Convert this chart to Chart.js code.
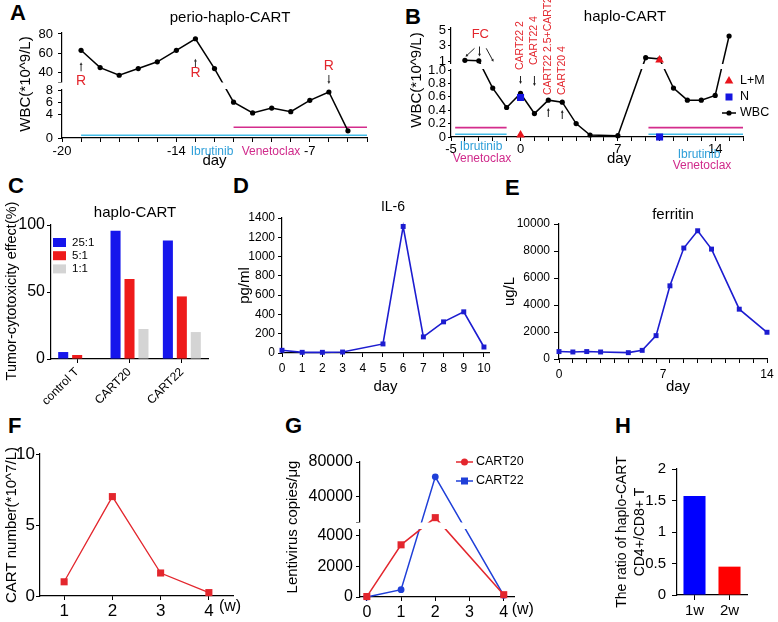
<!DOCTYPE html>
<html><head><meta charset="utf-8">
<title>haplo-CART</title>
<script src="https://cdn.jsdelivr.net/npm/chart.js@4/dist/chart.umd.js"></script>
<style>
html,body{margin:0;padding:0;background:#fff;}
body{position:relative;width:778px;height:622px;overflow:hidden;}
.pl{position:absolute;font:bold 22px "Liberation Sans",Arial,sans-serif;line-height:22px;color:#000;}
canvas{position:absolute;}
</style></head><body>
<div class="pl" style="left:10px;top:2px">A</div>
<div class="pl" style="left:405px;top:6px">B</div>
<div class="pl" style="left:8px;top:175px">C</div>
<div class="pl" style="left:233px;top:175px">D</div>
<div class="pl" style="left:505px;top:177px">E</div>
<div class="pl" style="left:8px;top:415px">F</div>
<div class="pl" style="left:285px;top:415px">G</div>
<div class="pl" style="left:615px;top:415px">H</div>
<script>
// ================= DATA =================
// A: perio-haplo-CART
const aDays = [-19,-18,-17,-16,-15,-14,-13,-12,-11,-10,-9,-8,-7,-6,-5];
const aWBC  = [63,45,37,44,51,63,75,44,6,4.2,5,4.4,6.3,7.7,1.2];
const aIbrutinib  = [-19,-4];
const aVenetoclax = [-11,-4];
const aXTickLabels = [-20,-14,-7];
const aYTicks = [0,4,6,8,30,40,60,80];
const aRelapseDays = [-19,-13,-6];
// B: haplo-CART
const bDays = [-4,-3,-2,-1,0,1,2,3,4,5,7,9,10,11,12,13,14,15];
const bWBC  = [1.09,1.02,0.73,0.44,0.65,0.35,0.55,0.52,0.2,0.03,0.02,1.43,1.26,0.73,0.55,0.55,0.62,4.22];
const bLMDays = [0,10];
const bLM     = [0.03,1.13];
const bNDays  = [0,10];
const bN      = [0.59,0];
const bIbrutinib  = [[-4.7,-1],[9.2,16]];
const bVenetoclax = [[-4.7,-1],[9.2,16]];
const bXTickLabels = [-5,0,7,14];
const bYTicks = [0,0.2,0.4,0.6,0.8,1.0,1.001,3,5];
const bInfusionDays  = [0,1,2,3];
const bInfusionTexts = ['CART22 2','CART22 4','CART22 2.5+CART20 2','CART20 4'];
const bFCDays = [-4,-3,-2];
// C: cytotoxicity
const cCategories = ['control T','CART20','CART22'];
const cRatios = ['25:1','5:1','1:1'];
const c25to1 = [5.2,95.7,88.5];
const c5to1  = [3.0,59.7,46.7];
const c1to1  = [0,22.4,20.1];
const cYTicks = [0,50,100];
// D: IL-6
const dDays = [0,1,2,3,5,6,7,8,9,10];
const dIL6  = [28,7,7,10,94,1312,167,323,427,62];
const dXTicks = [0,1,2,3,4,5,6,7,8,9,10];
const dYTicks = [0,200,400,600,800,1000,1200,1400];
// E: ferritin
const eIdx = [0,1,2,3,5,6,7,8,9,10,11,13,15];
const eFerritin = [550,520,550,520,470,640,1730,5420,8220,9500,8140,3690,1980];
const eXTickPos  = [0,7.5,15];
const eXTickText = ['0','7','14'];
const eYTicks = [0,2000,4000,6000,8000,10000];
// F: CART number
const fWeeks = ['1','2','3','4'];
const fCART  = [1.0,7.0,1.62,0.24];
const fYTicks = [0,5,10];
// G: lentivirus copies
const gWeeks  = [0,1,2,4];
const gCART20 = [30,3400,16000,150];
const gCART22 = [0,480,63000,110];
const gXTicks = [0,1,2,3,4];
const gYTicks = [0,2000,4000,11000,40000,80000];
// H: CD4/CD8 ratio
const hWeeks = ['1w','2w'];
const hRatio = [1.57,0.45];
const hYTicks = [0,0.5,1,1.5,2];

// ================= STYLE / HELPERS =================
const FONT = '"Liberation Sans", Arial, Helvetica, sans-serif';
Chart.defaults.font.family = FONT;
Chart.defaults.color = '#000';
const BLACK = '#000', CYAN = '#45bde8', MAG = '#d42c8c', CYAN_T = '#2e9fd9', MAG_T = '#d02a8b', RED_T = '#e3262d';
const BLUE = '#1616ec', RED = '#ee1b1b', GREY = '#d4d4d4', LBLUE = '#1c1cd0', LRED = '#e3262d', GBLUE = '#1f3fd8';
const CLIP = {left: 6, right: 6, top: 6, bottom: 6};

// Broken (two-segment) linear axis: lower segment [min, lo], upper segment [hi, max]
class BrokenScale extends Chart.LinearScale {
  getPixelForValue(v) {
    if (v === null || v === undefined || isNaN(v)) return NaN;
    const b = this.options.brk;
    const top = this.top, bot = this.bottom;
    const loY = bot - b.lowPx, hiY = top + b.upPx;
    if (v <= b.lo) return bot - (v - this.min) / (b.lo - this.min) * b.lowPx;
    if (v >= b.hi) return hiY - (v - b.hi) / (this.max - b.hi) * b.upPx;
    return loY - (v - b.lo) / (b.hi - b.lo) * (loY - hiY);
  }
  getValueForPixel(p) {
    const b = this.options.brk;
    const top = this.top, bot = this.bottom;
    const loY = bot - b.lowPx, hiY = top + b.upPx;
    if (p >= loY) return this.min + (bot - p) / b.lowPx * (b.lo - this.min);
    if (p <= hiY) return b.hi + (hiY - p) / b.upPx * (this.max - b.hi);
    return b.lo + (loY - p) / (loY - hiY) * (b.hi - b.lo);
  }
}
BrokenScale.id = 'broken';
Chart.register(BrokenScale);

function pts(xs, ys) { return xs.map((x, i) => ({x: x, y: ys[i]})); }
function seq(a, b) { const r = []; for (let v = a; v <= b; v++) r.push(v); return r; }

function makeH(chart, ox, oy) {
  const ctx = chart.ctx;
  const H = {
    chart,
    px(v, id) { return chart.scales[id || 'x'].getPixelForValue(v) + ox; },
    py(v, id) { return chart.scales[id || 'y'].getPixelForValue(v) + oy; },
    text(s, x, y, o) {
      o = o || {};
      ctx.save();
      ctx.translate(x - ox, y - oy);
      if (o.rot) ctx.rotate(o.rot);
      ctx.font = (o.bold ? 'bold ' : '') + (o.size || 12) + 'px ' + FONT;
      ctx.fillStyle = o.color || '#000';
      ctx.textAlign = o.align || 'center';
      ctx.textBaseline = o.base || 'middle';
      ctx.fillText(s, 0, 0);
      ctx.restore();
    },
    line(x1, y1, x2, y2, color, w) {
      ctx.save(); ctx.beginPath(); ctx.moveTo(x1 - ox, y1 - oy); ctx.lineTo(x2 - ox, y2 - oy);
      ctx.strokeStyle = color || '#000'; ctx.lineWidth = w || 1; ctx.stroke(); ctx.restore();
    },
    arrow(x1, y1, x2, y2, color, w, hs) {
      hs = hs || 3.5;
      const a = Math.atan2(y2 - y1, x2 - x1);
      H.line(x1, y1, x2 - Math.cos(a) * hs * 0.6, y2 - Math.sin(a) * hs * 0.6, color, w);
      ctx.save(); ctx.beginPath();
      ctx.moveTo(x2 - ox, y2 - oy);
      ctx.lineTo(x2 - ox - hs * Math.cos(a - 0.5), y2 - oy - hs * Math.sin(a - 0.5));
      ctx.lineTo(x2 - ox - hs * Math.cos(a + 0.5), y2 - oy - hs * Math.sin(a + 0.5));
      ctx.closePath(); ctx.fillStyle = color || '#000'; ctx.fill(); ctx.restore();
    },
    box(x, y, w, h, color) { ctx.save(); ctx.fillStyle = color; ctx.fillRect(x - ox, y - oy, w, h); ctx.restore(); },
    dot(x, y, r, color) { ctx.save(); ctx.beginPath(); ctx.arc(x - ox, y - oy, r, 0, Math.PI * 2); ctx.fillStyle = color; ctx.fill(); ctx.restore(); },
    tri(x, y, r, color) {
      ctx.save(); ctx.beginPath();
      ctx.moveTo(x - ox, y - oy - r);
      ctx.lineTo(x - ox + r * 0.866, y - oy + r * 0.5);
      ctx.lineTo(x - ox - r * 0.866, y - oy + r * 0.5);
      ctx.closePath(); ctx.fillStyle = color; ctx.fill(); ctx.restore();
    }
  };
  return H;
}

// white band that cuts the axis and the lines at an axis break (offsets from chart-area top)
function breakBand(y0, y1) {
  return chart => {
    const a = chart.chartArea, ctx = chart.ctx;
    ctx.save(); ctx.fillStyle = '#fff';
    ctx.fillRect(a.left - 4, a.top + y0, a.right - a.left + 10, y1 - y0);
    ctx.restore();
  };
}

function mk(box, cfg, draw, band) {
  const l = box[0], t = box[1], w = box[2], h = box[3];
  const c = document.createElement('canvas');
  c.width = w; c.height = h;
  c.style.left = l + 'px'; c.style.top = t + 'px'; c.style.width = w + 'px'; c.style.height = h + 'px';
  document.body.appendChild(c);
  const o = cfg.options || (cfg.options = {});
  o.responsive = false; o.animation = false; o.devicePixelRatio = 1; o.events = [];
  o.plugins = Object.assign({legend: {display: false}, tooltip: {enabled: false}, title: {display: false}}, o.plugins || {});
  cfg.plugins = [{id: 'annot',
    afterDatasetsDraw(chart) { if (band) band(chart); },
    afterDraw(chart) { if (draw) draw(makeH(chart, l, t)); }}];
  return new Chart(c.getContext('2d'), cfg);
}

function linAxis(o) {
  const ax = {
    type: o.type || 'linear', min: o.min, max: o.max,
    afterBuildTicks: s => { s.ticks = o.ticks.map(v => ({value: v})); },
    ticks: {autoSkip: false, maxRotation: 0, minRotation: 0, font: {size: o.size || 12},
      padding: o.pad == null ? 3 : o.pad, color: '#000', callback: o.fmt || (v => String(v))},
    grid: {display: true, drawOnChartArea: false, drawTicks: true, tickLength: o.tl == null ? 4 : o.tl,
      color: '#000', tickColor: o.tickColor || '#000', tickWidth: 1, lineWidth: 1},
    border: {display: true, color: '#000', width: 1.2}
  };
  if (o.brk) ax.brk = o.brk;
  if (o.w != null) ax.afterFit = s => { s.width = o.w; };
  if (o.h != null) ax.afterFit = s => { s.height = o.h; };
  if (o.title) ax.title = o.title;
  return ax;
}
function catAxis(o) {
  return {
    type: 'category', offset: true,
    afterFit: s => { s.height = o.h; },
    ticks: {font: {size: o.size}, padding: o.pad, color: '#000', autoSkip: false, maxRotation: o.rot || 0, minRotation: o.rot || 0},
    grid: {display: true, offset: false, drawOnChartArea: false, drawTicks: true, tickLength: o.tl || 4, color: '#000', tickWidth: 1},
    border: {display: true, color: '#000', width: 1.2}
  };
}
const ROT = -Math.PI / 2;

// ================= PANEL A =================
const aRStyle = {'-19': [21, 12, 31], '-13': [29, 20, 34], '-6': [-17, -8, -26]};
mk([0, 0, 380, 170], {
  type: 'line',
  data: {datasets: [
    {data: pts(aDays, aWBC), borderColor: BLACK, borderWidth: 1.5, pointRadius: 2.6, pointBackgroundColor: BLACK, pointBorderWidth: 0, clip: CLIP},
    {data: pts(aIbrutinib, [0.45, 0.45]), borderColor: CYAN, borderWidth: 1.6, pointRadius: 0, clip: CLIP},
    {data: pts(aVenetoclax, [1.8, 1.8]), borderColor: MAG, borderWidth: 1.6, pointRadius: 0, clip: CLIP}
  ]},
  options: {layout: {padding: {left: 0, top: 33, right: 13, bottom: 0}},
    scales: {
      x: linAxis({min: -20, max: -4, ticks: seq(-20, -4), fmt: v => aXTickLabels.includes(v) ? String(v) : '', size: 13, pad: 2, h: 32,
        title: {display: true, text: 'day', font: {size: 15}, padding: {top: 0, bottom: 0}}}),
      y: linAxis({type: 'broken', min: 0, max: 81, brk: {lo: 8.2, hi: 30, lowPx: 49, upPx: 49},
        ticks: aYTicks, fmt: v => v === 30 ? '' : String(v), size: 13, pad: 5, w: 62})
    }}
}, H => {
  H.text('perio-haplo-CART', 230, 18, {size: 15});
  H.text('WBC(*10^9/L)', 26, 84, {size: 15, rot: ROT});
  aRelapseDays.forEach(d => {
    const v = aWBC[aDays.indexOf(d)];
    const x = H.px(d), y = H.py(v), s = aRStyle[String(d)];
    H.arrow(x, y + s[0], x, y + s[1], '#333', 1, 3);
    H.text('R', x, y + s[2], {size: 14, color: RED_T});
  });
  H.text('Ibrutinib', 212, 151.5, {size: 12, color: CYAN_T});
  H.text('Venetoclax', 271, 151.5, {size: 12, color: MAG_T});
}, breakBand(49.5, 56));

// ================= PANEL B =================
const bSets = [
  {data: pts(bLMDays, bLM), showLine: false, pointStyle: 'triangle', pointRadius: 5, pointBackgroundColor: '#e8141c', pointBorderWidth: 0, clip: CLIP},
  {data: pts(bNDays, bN), showLine: false, pointStyle: 'rect', pointRadius: 5, pointBackgroundColor: '#1515e0', pointBorderWidth: 0, clip: CLIP},
  {data: pts(bDays, bWBC), borderColor: BLACK, borderWidth: 1.5, pointRadius: 2.6, pointBackgroundColor: BLACK, pointBorderWidth: 0, clip: CLIP}
];
bVenetoclax.forEach(r => bSets.push({data: pts(r, [0.14, 0.14]), borderColor: MAG, borderWidth: 1.6, pointRadius: 0, clip: CLIP}));
bIbrutinib.forEach(r => bSets.push({data: pts(r, [0.04, 0.04]), borderColor: CYAN, borderWidth: 1.6, pointRadius: 0, clip: CLIP}));
const bInfStyle = [[70, 76, 84], [65, 76, 86], [95, 117, 108], [95, 119, 110]];
mk([380, 0, 398, 175], {
  type: 'line', data: {datasets: bSets},
  options: {layout: {padding: {left: 0, top: 28, right: 35, bottom: 0}},
    scales: {
      x: linAxis({min: -5, max: 16, ticks: seq(-5, 16), fmt: v => bXTickLabels.includes(v) ? String(v) : '', size: 13, pad: 1, h: 38}),
      y: linAxis({type: 'broken', min: 0, max: 5.25, brk: {lo: 1.0, hi: 1.001, lowPx: 67, upPx: 33},
        ticks: bYTicks, fmt: v => v > 1 ? String(Math.round(v)) : (v === 0 ? '0' : v.toFixed(1)), size: 13, pad: 2, tl: 3, w: 71})
    }}
}, H => {
  H.text('haplo-CART', 625, 17, {size: 15});
  H.text('WBC(*10^9/L)', 416.7, 80, {size: 15, rot: ROT});
  H.text('FC', H.px(bFCDays[1]) + 1.5, 34, {size: 13, color: RED_T});
  H.arrow(H.px(bFCDays[0]) + 9.6, 48.3, H.px(bFCDays[0]) + 0.6, 56.7, '#222', 1, 3);
  H.arrow(H.px(bFCDays[1]) + 0.7, 46.5, H.px(bFCDays[1]) + 0.7, 56.5, '#222', 1, 3);
  H.arrow(H.px(bFCDays[2]) - 6.5, 48.3, H.px(bFCDays[2]) + 0.8, 61.7, '#222', 1, 3);
  bInfusionDays.forEach((d, i) => {
    const x = H.px(d), s = bInfStyle[i];
    H.text(bInfusionTexts[i], x, s[0], {size: 10.5, color: RED_T, rot: ROT, align: 'left'});
    H.arrow(x, s[1], x, s[2], '#222', 1, 3);
  });
  H.text('day', 619, 159, {size: 15});
  H.text('Ibrutinib', 481, 147, {size: 12, color: CYAN_T});
  H.text('Venetoclax', 482, 158.5, {size: 12, color: MAG_T});
  H.text('Ibrutinib', 699, 155, {size: 12, color: CYAN_T});
  H.text('Venetoclax', 702, 166, {size: 12, color: MAG_T});
  H.tri(729, 81, 5, '#e8141c'); H.text('L+M', 740, 81, {size: 12.5, align: 'left'});
  H.box(725.5, 93.5, 7, 7, '#1515e0'); H.text('N', 740, 97, {size: 12.5, align: 'left'});
  H.line(722, 113, 736, 113, '#000', 1.5); H.dot(729, 113, 2.6, '#000'); H.text('WBC', 740, 113, {size: 12.5, align: 'left'});
}, breakBand(36, 41));

// ================= PANEL C =================
mk([0, 170, 250, 250], {
  type: 'bar',
  data: {labels: cCategories, datasets: [
    {label: cRatios[0], data: c25to1, backgroundColor: BLUE},
    {label: cRatios[1], data: c5to1, backgroundColor: RED},
    {label: cRatios[2], data: c1to1, backgroundColor: GREY}
  ]},
  options: {datasets: {bar: {categoryPercentage: 0.8, barPercentage: 0.72, borderWidth: 0}},
    layout: {padding: {left: 0, top: 55, right: 42, bottom: 0}},
    scales: {
      x: catAxis({h: 61, size: 12, pad: 2, rot: 45, tl: 4}),
      y: linAxis({min: 0, max: 100, ticks: cYTicks, size: 16, pad: 2, tl: 4, w: 51})
    }}
}, H => {
  H.text('haplo-CART', 135, 213, {size: 15});
  H.text('Tumor-cytotoxicity effect(%)', 12, 291, {size: 14.5, rot: ROT});
  H.chart.data.datasets.forEach((ds, i) => {
    H.box(53, 238 + i * 13.2, 13, 9, ds.backgroundColor);
    H.text(ds.label, 72, 242.5 + i * 13.2, {size: 11.5, align: 'left'});
  });
});

// ================= PANEL D =================
mk([230, 170, 270, 230], {
  type: 'line',
  data: {datasets: [{data: pts(dDays, dIL6), borderColor: LBLUE, borderWidth: 1.6, pointStyle: 'rect', pointRadius: 3.5,
    pointBackgroundColor: LBLUE, pointBorderWidth: 0, clip: false}]},
  options: {layout: {padding: {left: 0, top: 48, right: 11, bottom: 0}},
    scales: {
      x: linAxis({min: 0, max: 10.25, ticks: dXTicks, size: 12, pad: 4, tl: 4, h: 47,
        title: {display: true, text: 'day', font: {size: 15}, padding: {top: 0, bottom: 4}}}),
      y: linAxis({min: 0, max: 1400, ticks: dYTicks, size: 12, pad: 3, tl: 4, w: 52,
        title: {display: true, text: 'pg/ml', font: {size: 15}, padding: {top: 6, bottom: 0}}})
    }}
}, H => { H.text('IL-6', 393, 207, {size: 14}); });

// ================= PANEL E =================
mk([495, 170, 293, 230], {
  type: 'line',
  data: {datasets: [{data: pts(eIdx, eFerritin), borderColor: LBLUE, borderWidth: 1.6, pointStyle: 'rect', pointRadius: 3.5,
    pointBackgroundColor: LBLUE, pointBorderWidth: 0, clip: false}]},
  options: {layout: {padding: {left: 0, top: 54, right: 21, bottom: 0}},
    scales: {
      x: linAxis({min: 0, max: 15, ticks: seq(0, 7).concat([7.5], seq(8, 15)),
        fmt: v => { const k = eXTickPos.indexOf(v); return k >= 0 ? eXTickText[k] : ''; },
        tickColor: c => (c.tick && c.tick.value === 7.5) ? 'rgba(0,0,0,0)' : '#000',
        size: 12, pad: 4, tl: 4, h: 41}),
      y: linAxis({min: 0, max: 10000, ticks: eYTicks, size: 12, pad: 4, tl: 5, w: 64,
        title: {display: true, text: 'ug/L', font: {size: 15}, padding: {top: 6, bottom: 0}}})
    }}
}, H => {
  H.text('ferritin', 673, 215, {size: 15});
  H.text('day', 678, 387, {size: 15});
});

// ================= PANEL F =================
mk([0, 410, 250, 212], {
  type: 'line',
  data: {labels: fWeeks, datasets: [{data: fCART, borderColor: LRED, borderWidth: 1.3, pointStyle: 'rect', pointRadius: 5,
    pointBackgroundColor: LRED, pointBorderWidth: 0, clip: false}]},
  options: {layout: {padding: {left: 0, top: 44, right: 17, bottom: 0}},
    scales: {
      x: catAxis({h: 26, size: 17, pad: 1, tl: 4}),
      y: linAxis({min: 0, max: 10, ticks: fYTicks, size: 17, pad: 1, tl: 4, w: 40,
        title: {display: true, text: 'CART number(*10^7/L)', font: {size: 15}, padding: {top: 3, bottom: 0}}})
    }}
}, H => { H.text('(w)', H.px(fWeeks.length - 1) + 10, 607, {size: 16, align: 'left'}); });

// ================= PANEL G =================
mk([250, 410, 310, 212], {
  type: 'line',
  data: {datasets: [
    {data: pts(gWeeks, gCART20), borderColor: LRED, borderWidth: 1.5, pointStyle: 'rect', pointRadius: 5, pointBackgroundColor: LRED, pointBorderWidth: 0, clip: CLIP},
    {data: pts(gWeeks, gCART22), borderColor: GBLUE, borderWidth: 1.5, pointStyle: 'circle', pointRadius: 3.4, pointBackgroundColor: GBLUE, pointBorderWidth: 0, clip: CLIP}
  ]},
  options: {layout: {padding: {left: 0, top: 52, right: 46, bottom: 0}},
    scales: {
      x: linAxis({min: -0.2, max: 4.3, ticks: gXTicks, size: 16, pad: 2, tl: 4, h: 25}),
      y: linAxis({type: 'broken', min: 0, max: 80000, brk: {lo: 4300, hi: 11000, lowPx: 66, upPx: 60},
        ticks: gYTicks, fmt: v => v === 11000 ? '' : String(v), size: 16, pad: 3, tl: 4, w: 110})
    }}
}, H => {
  H.text('Lentivirus copies/μg', 293, 527, {size: 15, rot: ROT});
  H.line(456, 462, 473, 462, LRED, 1.5); H.dot(464.5, 462, 3.5, LRED);
  H.text('CART20', 476, 462, {size: 12.5, align: 'left'});
  H.line(456, 481, 473, 481, GBLUE, 1.5); H.box(461, 477.5, 7, 7, GBLUE);
  H.text('CART22', 476, 481, {size: 12.5, align: 'left'});
  H.text('(w)', H.px(gXTicks[gXTicks.length - 1]) + 8, 610, {size: 16, align: 'left'});
}, breakBand(60.5, 67));

// ================= PANEL H =================
mk([580, 410, 198, 212], {
  type: 'bar',
  data: {labels: hWeeks, datasets: [{data: hRatio, backgroundColor: ['#0000ff', '#ff0000'], borderWidth: 0, barPercentage: 0.63, categoryPercentage: 1}]},
  options: {layout: {padding: {left: 0, top: 59, right: 31, bottom: 0}},
    scales: {
      x: catAxis({h: 27, size: 15, pad: 2, tl: 5}),
      y: linAxis({min: 0, max: 2, ticks: hYTicks, size: 15, pad: 6, tl: 5, w: 97,
        title: {display: true, text: ['The ratio of haplo-CART', 'CD4+/CD8+ T'], font: {size: 14, lineHeight: 1.3}, padding: {top: 33, bottom: 0}}})
    }}
});
</script>
</body></html>
